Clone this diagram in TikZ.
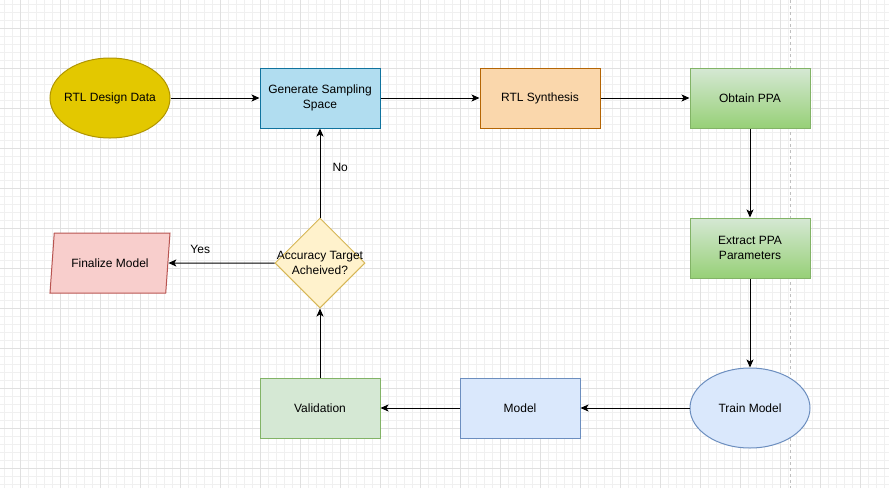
\documentclass[tikz,border=0pt]{standalone}
\usepackage{fontspec}
\setmainfont{Liberation Sans}
\usetikzlibrary{shapes,arrows.meta,calc}

\definecolor{gridmajor}{HTML}{E0E0E0}
\definecolor{gridminor}{HTML}{F0F0F0}
\definecolor{yellowfill}{HTML}{E3C800}
\definecolor{yellowline}{HTML}{B09500}
\definecolor{bluefill}{HTML}{B1DDF0}
\definecolor{blueline}{HTML}{10739E}
\definecolor{orangefill}{HTML}{FAD7AC}
\definecolor{orangeline}{HTML}{B46504}
\definecolor{greentop}{HTML}{D5E8D4}
\definecolor{greenbot}{HTML}{97D077}
\definecolor{greenline}{HTML}{82B366}
\definecolor{lightblue}{HTML}{DAE8FC}
\definecolor{lightblueline}{HTML}{6C8EBF}
\definecolor{decfill}{HTML}{FFF2CC}
\definecolor{decline}{HTML}{D6B656}
\definecolor{redfill}{HTML}{F8CECC}
\definecolor{redline}{HTML}{B85450}

\tikzstyle{base}=[draw,line width=1pt,font=\fontsize{12}{14.4}\selectfont,align=center,inner sep=2pt]
\tikzstyle{process}=[base,rectangle,minimum width=120pt,minimum height=60pt]
\tikzstyle{terminal}=[base,ellipse,minimum width=120pt,minimum height=80pt,inner xsep=-8pt]
\tikzstyle{greenbox}=[process,draw=greenline,top color=greentop,bottom color=greenbot]
\tikzstyle{decision}=[base,diamond,minimum width=90pt,minimum height=90pt,inner sep=0pt,fill=decfill,draw=decline]
\tikzstyle{datashape}=[base,trapezium,trapezium left angle=71.6,trapezium right angle=108.4,trapezium stretches body,minimum width=120pt,minimum height=60pt,fill=redfill,draw=redline]
\tikzstyle{edge}=[draw,line width=1pt,-{Stealth[length=8pt,width=7pt,inset=2pt]}]
\tikzstyle{weight}=[font=\fontsize{12}{14.4}\selectfont]

\begin{document}
\begin{tikzpicture}[x=1pt,y=-1pt]

    \fill[white] (0,0) rectangle (889,488);
    \useasboundingbox (0,0) rectangle (889,488);

    % grid of the canvas
    \foreach \x in {4,12,...,884}
        \draw[gridminor,line width=1pt] (\x,0) -- (\x,488);
    \foreach \y in {4,12,...,484}
        \draw[gridminor,line width=1pt] (0,\y) -- (889,\y);
    \foreach \x in {20,60,...,860}
        \draw[gridmajor,line width=1pt] (\x,0) -- (\x,488);
    \foreach \y in {28,68,...,468}
        \draw[gridmajor,line width=1pt] (0,\y) -- (889,\y);
    \draw[gray!50,dashed,line width=1pt] (790.5,0) -- (790.5,488);

    % top row
    \node[terminal,fill=yellowfill,draw=yellowline] (rtl) at (110,98) {RTL Design Data};
    \node[process,fill=bluefill,draw=blueline] (gen) at (320,98) {Generate Sampling\\Space};
    \node[process,fill=orangefill,draw=orangeline] (syn) at (540,98) {RTL Synthesis};
    \node[greenbox] (ppa) at (750,98) {Obtain PPA};

    % right column and bottom row
    \node[greenbox] (extract) at (750,248) {Extract PPA\\Parameters};
    \node[terminal,fill=lightblue,draw=lightblueline] (train) at (750,408) {Train Model};
    \node[process,fill=lightblue,draw=lightblueline] (model) at (520,408) {Model};
    \node[process,fill=greentop,draw=greenline] (valid) at (320,408) {Validation};

    % decision and result
    \node[decision,label={[font=\fontsize{12}{14.4}\selectfont,align=center]center:Accuracy Target\\Acheived?}] (acc) at (320,263) {};
    \node[datashape] (final) at (110,263) {Finalize Model};

    % Connect vertices with edges
    \foreach \source/ \dest in {rtl/gen,gen/syn,syn/ppa,ppa/extract,extract/train,train/model,model/valid,valid/acc}
        \draw[edge] (\source) -- (\dest);

    \draw[edge] (acc) -- node[weight,pos=0.56,right,inner sep=12pt] {No} (gen);
    \draw[edge] (acc.west) -- node[weight,pos=0.7,above,inner sep=9pt] {Yes} (final);

\end{tikzpicture}
\end{document}
